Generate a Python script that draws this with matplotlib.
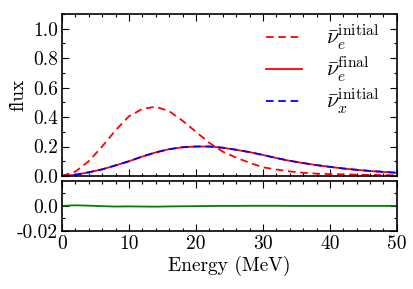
import matplotlib
matplotlib.use("Agg")
import matplotlib.pyplot as plt
import numpy as np
from matplotlib.ticker import MultipleLocator, FixedLocator, FixedFormatter

plt.rcParams['font.family'] = 'serif'
plt.rcParams['font.serif'] = ['cmr10']
plt.rcParams['mathtext.fontset'] = 'cm'
plt.rcParams['axes.unicode_minus'] = False
plt.rcParams['axes.formatter.use_mathtext'] = True

energy = [0, 2, 4, 6, 8, 10, 12, 14, 16, 18, 20, 22, 24, 26, 28, 30,
          32, 34, 36, 38, 40, 42, 44, 46, 48, 50]
nue_bar_initial = [0.0, 0.03, 0.10, 0.20, 0.31, 0.405, 0.455, 0.47, 0.44, 0.375,
                   0.30, 0.225, 0.165, 0.125, 0.09, 0.059, 0.044, 0.031, 0.022,
                   0.016, 0.013, 0.011, 0.009, 0.007, 0.006, 0.005]
nue_bar_final = [0.0, 0.008, 0.025, 0.045, 0.072, 0.10, 0.132, 0.16, 0.182, 0.195,
                 0.20, 0.20, 0.192, 0.178, 0.162, 0.143, 0.122, 0.103, 0.088,
                 0.074, 0.062, 0.051, 0.042, 0.034, 0.028, 0.022]
nux_bar_initial = [0.0, 0.008, 0.025, 0.045, 0.072, 0.10, 0.132, 0.16, 0.182, 0.195,
                   0.20, 0.20, 0.192, 0.178, 0.162, 0.143, 0.122, 0.103, 0.088,
                   0.074, 0.062, 0.051, 0.042, 0.034, 0.028, 0.022]
difference = [0.0, 0.0005, 0.0002, -0.0002, -0.0005, -0.0004, -0.0005, -0.0006,
              -0.0004, -0.0003, -0.0002, -0.0001, 0.0, 0.0, 0.0001, 0.0001,
              0.0001, 0.0, 0.0, 0.0, 0.0, 0.0, 0.0, 0.0, 0.0, 0.0]

fig = plt.figure(figsize=(4.13, 2.89), dpi=100)
ax1 = fig.add_axes([0.150, 0.391, 0.811, 0.561])
ax2 = fig.add_axes([0.150, 0.201, 0.811, 0.173])

dash = (4.2, 2.6)
ax1.plot(energy, nue_bar_initial, color='red', ls=(0, dash), lw=1.3,
         label=r'$\bar{\nu}_e^{\rm initial}$')
ax1.plot(energy, nue_bar_final, color='red', ls='-', lw=1.3,
         label=r'$\bar{\nu}_e^{\rm final}$')
ax1.plot(energy, nux_bar_initial, color='blue', ls=(0, dash), lw=1.3,
         label=r'$\bar{\nu}_x^{\rm initial}$')
ax1.set_xlim(0, 50)
ax1.set_ylim(0, 1.1)
ax1.set_ylabel('flux', fontsize=14, labelpad=4)
ax1.yaxis.set_minor_locator(MultipleLocator(0.1))
ax1.xaxis.set_major_locator(MultipleLocator(10))
ax1.xaxis.set_minor_locator(MultipleLocator(2))
ax1.set_yticks([0.0, 0.2, 0.4, 0.6, 0.8, 1.0])
ax1.set_yticklabels(['0.0', '0.2', '0.4', '0.6', '0.8', '1.0'])
ax1.tick_params(labelbottom=False)
leg = ax1.legend(loc='upper right', bbox_to_anchor=(0.975, 1.0), frameon=False,
                 fontsize=16, handlelength=1.6, labelspacing=0.12,
                 borderaxespad=0.0, handletextpad=1.1)

ax2.plot(energy, difference, color='green', lw=1.3)
ax2.set_xlim(0, 50)
ax2.set_ylim(-0.02, 0.02)
ax2.yaxis.set_major_locator(FixedLocator([-0.02, 0.0]))
ax2.yaxis.set_major_formatter(FixedFormatter(['-0.02', '0.0']))
ax2.yaxis.set_minor_locator(FixedLocator([-0.01, 0.01]))
ax2.xaxis.set_minor_locator(MultipleLocator(2))
ax2.set_xticks([0, 10, 20, 30, 40, 50])
ax2.set_xticklabels(['0', '10', '20', '30', '40', '50'])
ax2.set_xlabel('Energy (MeV)', fontsize=14, labelpad=2)

for ax in (ax1, ax2):
    ax.tick_params(which='both', direction='in', top=True, right=True,
                   labelsize=14, width=0.8, pad=3)
    ax.tick_params(which='major', length=5)
    ax.tick_params(which='minor', length=2.5)
    for s in ax.spines.values():
        s.set_linewidth(1.2)

fig.savefig('out.png', dpi=100)
